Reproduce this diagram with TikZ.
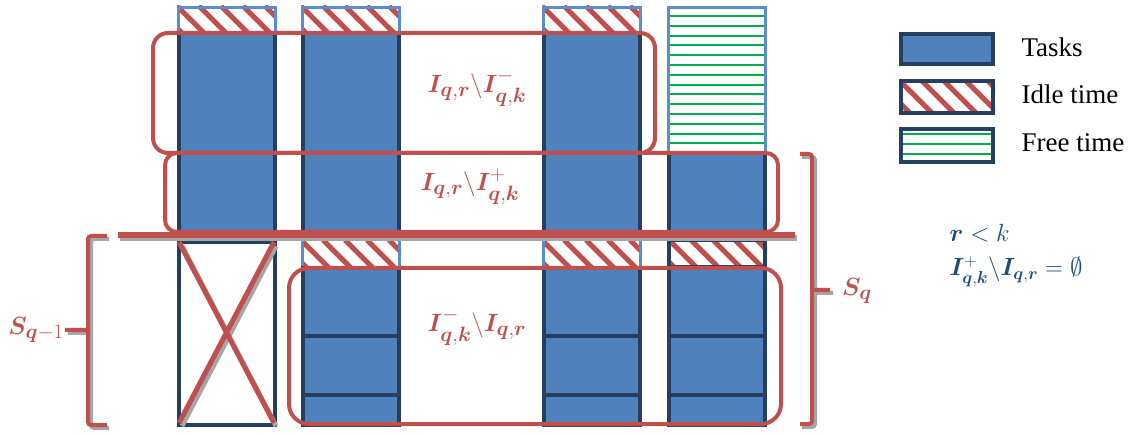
\documentclass[tikz,border=0pt]{standalone}
\usepackage{amsmath}
\usepackage{fontspec}
\setmainfont{Liberation Serif}
\DeclareMathAlphabet{\mathbi}{OML}{cmm}{b}{it}
\definecolor{taskblue}{HTML}{4F81BD}
\definecolor{darkb}{HTML}{243F60}
\definecolor{lightb}{HTML}{5B8CCB}
\definecolor{redc}{HTML}{C0504D}
\definecolor{greenc}{HTML}{00B050}
\definecolor{mathblue}{HTML}{1F4E79}
\definecolor{shadowc}{HTML}{A6A6A6}
\tikzset{
  darkline/.style={draw=darkb, line width=4pt},
  lightline/.style={draw=lightb, line width=3pt},
  hatchline/.style={draw=redc, line width=5pt},
  freeline/.style={draw=greenc, line width=2pt},
  setbox/.style={draw=redc, line width=4pt},
  bracket/.style={draw=redc, line width=4pt, rounded corners=3pt},
  shadowline/.style={draw=shadowc, line width=4pt, rounded corners=3pt},
  redlabel/.style={text=redc},
  bluelabel/.style={text=mathblue, anchor=base west},
  legendlabel/.style={anchor=base west}
}
\newcommand\bigfont{\fontsize{29}{34}\selectfont}
\newcommand\legfont{\fontsize{27}{32}\selectfont}
\newcommand\condfont{\fontsize{26}{31}\selectfont}
\newcommand\hatchfill[4]{%
  \begin{scope}
    \clip (#1,#2) rectangle (#3,#4);
    \fill[white] (#1,#2) rectangle (#3,#4);
    \foreach \k in {0,22,...,154} {\draw[hatchline] (#1-44+\k,#2) -- ++(45,45);}
  \end{scope}}
\newcommand\uppercol[1]{%
  \fill[taskblue] (#1,31) rectangle (#1+100,236);
  \draw[darkline] (#1+2,31) -- (#1+2,236) (#1+98,31) -- (#1+98,236);
  \hatchfill{#1}{6}{#1+100}{31}
  \draw[lightline] (#1+1.5,31) -- (#1+1.5,7.5) -- (#1+98.5,7.5) -- (#1+98.5,31);}
\newcommand\lowercol[1]{%
  \fill[taskblue] (#1,266) rectangle (#1+100,425);
  \draw[darkline] (#1+2,266) -- (#1+2,425) -- (#1+98,425) -- (#1+98,266);
  \draw[darkline] (#1,336) -- (#1+100,336) (#1,395) -- (#1+100,395);
  \hatchfill{#1}{240}{#1+100}{266}
  \draw[lightline] (#1+1.5,240) -- (#1+1.5,266) (#1+98.5,240) -- (#1+98.5,266);}
\begin{document}
\begin{tikzpicture}[x=1pt,y=-1pt]
\useasboundingbox (0,0) rectangle (1129,435);
% upper columns
\uppercol{177}
\uppercol{301}
\uppercol{542}
% column 4 upper: free time + task
\fill[taskblue] (667,152) rectangle (767,236);
\draw[darkline] (669,152) -- (669,236) (765,152) -- (765,236);
\fill[white] (667,6) rectangle (767,152);
\foreach \yy in {16,25.8,...,145} {\draw[freeline] (669,\yy) -- (765,\yy);}
\draw[lightline] (668.5,152) -- (668.5,7.5) -- (765.5,7.5) -- (765.5,152);
% lower columns
\lowercol{301}
\lowercol{542}
% column 4 lower
\fill[taskblue] (667,267) rectangle (767,425);
\draw[darkline] (669,267) -- (669,425) -- (765,425) -- (765,267);
\draw[darkline] (667,336) -- (767,336) (667,395) -- (767,395);
\hatchfill{667}{238}{767}{267}
\draw[darkline] (669,240) rectangle (765,267);
% column 1 lower: removed
\draw[darkline] (179,242) rectangle (275,425);
\draw[shadowline, line width=5pt] (182,246) -- (276,426) (276,246) -- (182,426);
\draw[draw=redc, line width=5pt] (179,242) -- (274,423) (274,242) -- (179,423);
% set boxes
\draw[setbox, rounded corners=15pt] (153,33) rectangle (655,153);
\draw[setbox, rounded corners=12pt] (165,153) rectangle (778,232);
\draw[setbox, rounded corners=20pt] (289,268) rectangle (781,424);
% thick separator line
\draw[draw=shadowc, line width=6pt] (120,238.5) -- (797,238.5);
\draw[draw=redc, line width=6pt] (118,235) -- (795,235);
% set labels
\node[redlabel] (lab1) at (477,88) {\bigfont $\mathbi{I}_{\mathbi{q},\mathbi{r}}\backslash \mathbi{I}^{-}_{\mathbi{q},\mathbi{k}}$};
\node[redlabel] (lab2) at (470,187) {\bigfont $\mathbi{I}_{\mathbi{q},\mathbi{r}}\backslash \mathbi{I}^{+}_{\mathbi{q},\mathbi{k}}$};
\node[redlabel] (lab3) at (477,327) {\bigfont $\mathbi{I}^{-}_{\mathbi{q},\mathbi{k}}\backslash \mathbi{I}_{\mathbi{q},\mathbi{r}}$};
% brackets
\draw[shadowline] (109,239) -- (91,239) -- (91,428) -- (109,428) (91,333) -- (68,333);
\draw[bracket] (107,236) -- (88,236) -- (88,425) -- (107,425) (88,330) -- (65,330);
\draw[shadowline] (802,157) -- (815,157) -- (815,427) -- (802,427) (815,293) -- (833,293);
\draw[bracket] (800,154) -- (812,154) -- (812,424) -- (800,424) (812,290) -- (830,290);
\node[redlabel] (sqm) at (36,330) {\bigfont $\mathbi{S}_{\mathbi{q}-1}$};
\node[redlabel] (sq) at (857,291) {\bigfont $\mathbi{S}_{\mathbi{q}}$};
% legend
\draw[darkline, fill=taskblue] (901,34) rectangle (993,64);
\hatchfill{899}{80}{995}{114}
\draw[darkline] (901,81) rectangle (993,113);
\fill[white] (899,127) rectangle (995,164);
\foreach \yy in {134,144,154} {\draw[freeline] (901,\yy) -- (993,\yy);}
\draw[darkline] (901,129) rectangle (993,162);
\node[legendlabel] (lt) at (1018,57) {\legfont Tasks};
\node[legendlabel] (li) at (1018,104) {\legfont Idle time};
\node[legendlabel] (lf) at (1018,152) {\legfont Free time};
% conditions
\node[bluelabel] (c1) at (946,242) {\condfont $\mathbi{r} < k$};
\node[bluelabel] (c2) at (946,276) {\condfont $\mathbi{I}^{+}_{\mathbi{q},\mathbi{k}}\backslash \mathbi{I}_{\mathbi{q},\mathbi{r}} = \emptyset$};
\end{tikzpicture}
\end{document}
